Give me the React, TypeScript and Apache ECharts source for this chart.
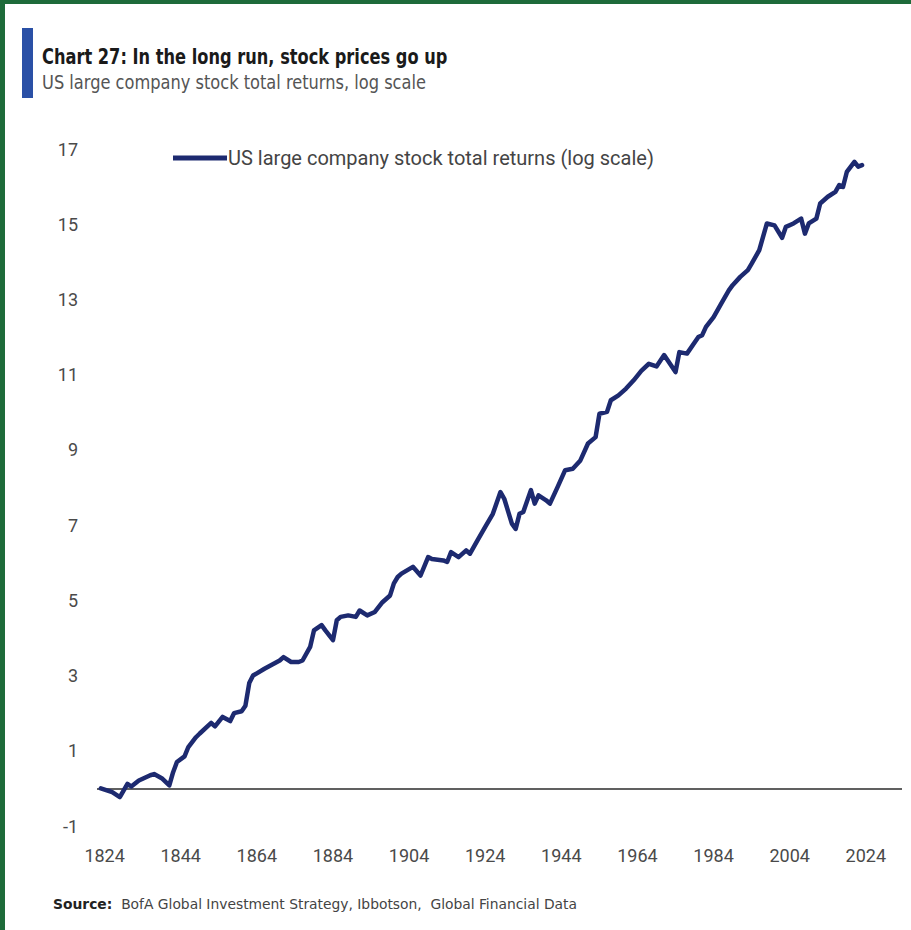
import React, { useEffect, useRef } from "react";
import * as echarts from "echarts";

const years: number[] = [
  1823, 1826, 1828, 1830, 1831, 1833, 1836, 1837, 1839, 1841, 1842, 1843, 1845, 1846, 1848, 1849,
  1852, 1853, 1855, 1857, 1858, 1860, 1861, 1862, 1863, 1866, 1870, 1871, 1873, 1875, 1876, 1878,
  1879, 1881, 1882, 1884, 1885, 1886, 1888, 1890, 1891, 1893, 1895, 1897, 1899, 1900, 1901, 1902,
  1905, 1907, 1909, 1910, 1913, 1914, 1915, 1917, 1919, 1920, 1922, 1924, 1926, 1928, 1929, 1931,
  1932, 1933, 1934, 1936, 1937, 1938, 1940, 1941, 1943, 1945, 1947, 1949, 1951, 1953, 1954, 1956,
  1957, 1959, 1961, 1963, 1965, 1967, 1969, 1971, 1974, 1975, 1977, 1980, 1981, 1982, 1984, 1986,
  1988, 1989, 1991, 1993, 1994, 1996, 1998, 2000, 2002, 2003, 2005, 2007, 2008, 2009, 2011, 2012,
  2014, 2016, 2017, 2018, 2019, 2021, 2022, 2023,
];

const values: number[] = [
  0.0, -0.1, -0.23, 0.12, 0.05, 0.21, 0.35, 0.38, 0.27, 0.08, 0.43, 0.7, 0.85, 1.1, 1.36, 1.46,
  1.74, 1.65, 1.9, 1.79, 2.0, 2.05, 2.2, 2.8, 3.0, 3.18, 3.4, 3.49, 3.36, 3.36, 3.4, 3.76,
  4.2, 4.34, 4.2, 3.94, 4.47, 4.56, 4.6, 4.56, 4.73, 4.6, 4.69, 4.95, 5.13, 5.45, 5.62, 5.71,
  5.89, 5.66, 6.15, 6.1, 6.06, 6.02, 6.28, 6.15, 6.33, 6.24, 6.6, 6.95, 7.3, 7.88, 7.7, 7.04,
  6.9, 7.3, 7.35, 7.93, 7.57, 7.79, 7.66, 7.57, 8.01, 8.46, 8.5, 8.72, 9.17, 9.34, 9.96, 10.01,
  10.32, 10.45, 10.63, 10.85, 11.1, 11.29, 11.22, 11.52, 11.07, 11.6, 11.56, 12.0, 12.05, 12.27, 12.53, 12.89,
  13.24, 13.38, 13.6, 13.78, 13.95, 14.31, 15.02, 14.97, 14.64, 14.93, 15.02, 15.15, 14.75, 15.02, 15.15, 15.55,
  15.73, 15.86, 16.04, 15.99, 16.39, 16.66, 16.53, 16.57,
];

const xTickLabels: number[] = [1824, 1844, 1864, 1884, 1904, 1924, 1944, 1964, 1984, 2004, 2024];
const yTickLabels: number[] = [-1, 1, 3, 5, 7, 9, 11, 13, 15, 17];

const seriesName = "US large company stock total returns (log scale)";
const titleText = "Chart 27: In the long run, stock prices go up";
const subtitleText = "US large company stock total returns, log scale";
const sourceText = "BofA Global Investment Strategy, Ibbotson,  Global Financial Data";

export default function App() {
  const ref = useRef<HTMLDivElement>(null);

  useEffect(() => {
    if (!ref.current) return;
    const chart = echarts.init(ref.current, undefined, { renderer: "svg" });
    const font = "Roboto, 'Open Sans', sans-serif";
    const narrow = "'Liberation Sans Narrow', 'DejaVu Sans Condensed', Roboto, sans-serif";
    chart.setOption({
      animation: false,
      backgroundColor: "#ffffff",
      grid: { left: 97, right: 9, top: 149, bottom: 104, containLabel: false },
      legend: {
        data: [{ name: seriesName, icon: "rect" }],
        left: 168,
        top: 143,
        itemWidth: 54,
        itemHeight: 5,
        itemGap: 0,
        textStyle: { fontFamily: font, fontSize: 20, color: "#444444", padding: [0, 0, 0, -4] },
      },
      xAxis: {
        type: "value",
        min: 1822,
        max: 2033.5,
        axisLine: { show: false },
        axisTick: { show: false },
        splitLine: { show: false },
        axisLabel: {
          customValues: xTickLabels,
          fontFamily: font,
          fontSize: 18,
          color: "#4a4a4a",
          margin: 20,
          formatter: (v: number) => String(v),
        },
      },
      yAxis: {
        type: "value",
        min: -1,
        max: 17,
        axisLine: { show: false },
        axisTick: { show: false },
        splitLine: { show: false },
        axisLabel: {
          customValues: yTickLabels,
          fontFamily: font,
          fontSize: 18,
          color: "#4a4a4a",
          margin: 19,
        },
      },
      series: [
        {
          name: seriesName,
          type: "line",
          data: years.map((y, i) => [y, values[i]]),
          showSymbol: false,
          symbol: "none",
          lineStyle: { color: "#1d2a70", width: 4.5, join: "round", cap: "round" },
          itemStyle: { color: "#1d2a70" },
          z: 3,
          markLine: {
            silent: true,
            symbol: "none",
            label: { show: false },
            lineStyle: { color: "#2b2b2b", width: 1.6, type: "solid" },
            data: [{ yAxis: 0 }],
            z: 1,
          },
        },
      ],
      graphic: [
        { type: "rect", x: 0, y: 0, shape: { width: 5, height: 930 }, style: { fill: "#1e6b3a" } },
        { type: "rect", x: 0, y: 0, shape: { width: 911, height: 4 }, style: { fill: "#1e6b3a" } },
        { type: "rect", x: 22, y: 28, shape: { width: 11, height: 70 }, style: { fill: "#2a50a6" } },
        {
          type: "text",
          x: 42,
          y: 45,
          scaleX: 0.82,
          style: {
            text: titleText,
            font: `bold 22px ${narrow}`,
            fill: "#1a1a1a",
            align: "left",
            verticalAlign: "top",
          },
        },
        {
          type: "text",
          x: 42,
          y: 73,
          scaleX: 0.95,
          style: {
            text: subtitleText,
            font: `19px ${narrow}`,
            fill: "#555555",
            align: "left",
            verticalAlign: "top",
          },
        },
        {
          type: "text",
          x: 53,
          y: 897,
          scaleX: 1.1,
          style: {
            text: `{b|Source:}  ${sourceText}`,
            font: `14px ${narrow}`,
            fill: "#444444",
            align: "left",
            verticalAlign: "top",
            rich: {
              b: { fontWeight: "bold", fontSize: 14, fontFamily: narrow, fill: "#222222" },
            },
          },
        },
      ],
    });
    return () => chart.dispose();
  }, []);

  return (
    <div
      ref={ref}
      style={{ position: "fixed", left: 0, top: 0, width: 911, height: 930, background: "#fff" }}
    />
  );
}
